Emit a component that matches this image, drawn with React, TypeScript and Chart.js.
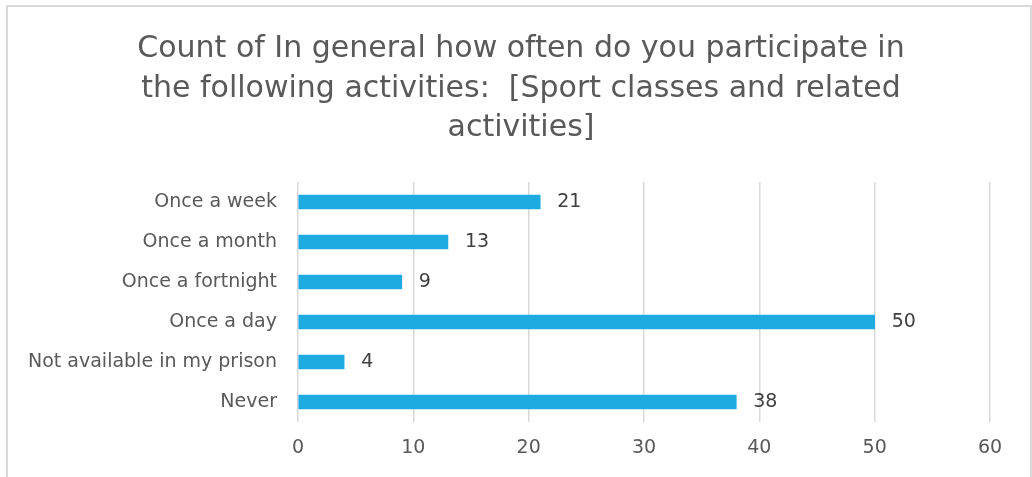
import React, { useEffect, useRef } from "react";
import { Chart, registerables } from "chart.js";

Chart.register(...registerables);

const categories = [
  "Once a week",
  "Once a month",
  "Once a fortnight",
  "Once a day",
  "Not available in my prison",
  "Never",
];
const counts = [21, 13, 9, 50, 4, 38];
const titleLines = [
  "Count of In general how often do you participate in",
  "the following activities:  [Sport classes and related",
  "activities]",
];
const xMin = 0;
const xMax = 60;
const xStep = 10;

const FONT = "'DejaVu Sans'";

export default function App() {
  const ref = useRef<HTMLCanvasElement | null>(null);

  useEffect(() => {
    if (!ref.current) return;

    const framePlugin = {
      id: "frame",
      beforeDraw(chart: any) {
        const ctx = chart.ctx;
        ctx.save();
        ctx.strokeStyle = "#d9d9d9";
        ctx.lineWidth = 2;
        ctx.strokeRect(7, 6, 1024, 500);
        ctx.restore();
      },
    };

    const titlePlugin = {
      id: "customTitle",
      afterDraw(chart: any) {
        const ctx = chart.ctx;
        ctx.save();
        ctx.font = `30px ${FONT}`;
        ctx.fillStyle = "#595959";
        ctx.textAlign = "center";
        ctx.textBaseline = "alphabetic";
        const baselines = [57, 97, 136];
        titleLines.forEach((line, i) => {
          ctx.fillText(line, 521, baselines[i]);
        });
        ctx.restore();
      },
    };

    const labelPlugin = {
      id: "valueLabels",
      afterDatasetsDraw(chart: any) {
        const ctx = chart.ctx;
        const meta = chart.getDatasetMeta(0);
        ctx.save();
        ctx.font = `19px ${FONT}`;
        ctx.fillStyle = "#404040";
        ctx.textAlign = "left";
        ctx.textBaseline = "middle";
        meta.data.forEach((bar: any, i: number) => {
          ctx.fillText(String(chart.data.datasets[0].data[i]), bar.x + 17, bar.y);
        });
        ctx.restore();
      },
    };

    const chart = new Chart(ref.current, {
      type: "bar",
      data: {
        labels: categories,
        datasets: [
          {
            label: "Count",
            data: counts,
            backgroundColor: "#1eabe2",
            borderWidth: 0,
            barThickness: 14,
          },
        ],
      },
      options: {
        indexAxis: "y",
        responsive: false,
        animation: false,
        layout: { padding: { top: 182, right: 42, left: 0, bottom: 0 } },
        plugins: {
          legend: { display: false },
          title: { display: false },
          tooltip: { enabled: false },
        },
        scales: {
          x: {
            min: xMin,
            max: xMax,
            ticks: {
              stepSize: xStep,
              color: "#595959",
              font: { family: FONT, size: 19 },
              padding: 15,
            },
            grid: { color: "#d9d9d9", lineWidth: 1.5, drawTicks: false },
            border: { display: false },
            afterFit(scale: any) {
              scale.height = 55;
            },
          },
          y: {
            ticks: {
              color: "#595959",
              font: { family: FONT, size: 19 },
              padding: 21,
            },
            grid: { display: false, drawTicks: false },
            border: { display: false },
            afterFit(scale: any) {
              scale.width = 298;
            },
          },
        },
      },
      plugins: [framePlugin, titlePlugin, labelPlugin],
    });

    return () => chart.destroy();
  }, []);

  return (
    <div style={{ position: "absolute", left: 0, top: 0, width: 1032, height: 477, overflow: "hidden" }}>
      <canvas ref={ref} width={1032} height={477} style={{ display: "block" }} />
    </div>
  );
}
